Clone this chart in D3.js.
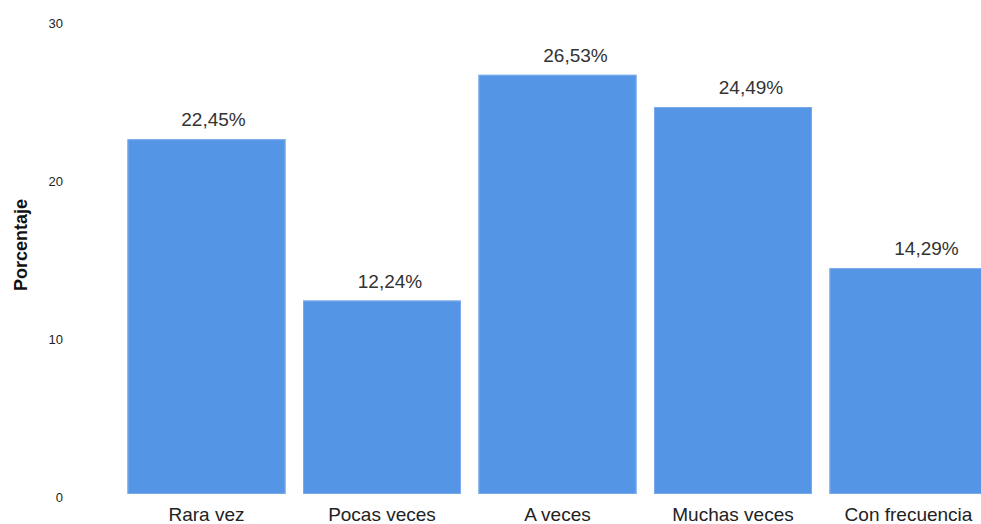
<!DOCTYPE html>
<html>
<head>
<meta charset="utf-8">
<script src="https://cdn.jsdelivr.net/npm/d3@7"></script>
<style>
  body { margin: 0; background: #fff; }
  svg { display: block; font-family: "Liberation Sans", Arial, sans-serif; }
</style>
</head>
<body>
<div id="chart"></div>
<script>
var categories = ["Rara vez", "Pocas veces", "A veces", "Muchas veces", "Con frecuencia"];
var values = [22.45, 12.24, 26.53, 24.49, 14.29];
var labels = ["22,45%", "12,24%", "26,53%", "24,49%", "14,29%"];
var tickValues = [0, 10, 20, 30];

var width = 981,
    height = 524;

var svg = d3.select('#chart')
    .append('svg')
    .attr('width', width)
    .attr('height', height);

var x = d3.scaleBand()
    .domain(categories)
    .range([118.75, 996.25])
    .paddingInner(0.1)
    .paddingOuter(0.05);

var y = d3.scaleLinear()
    .domain([0, 30])
    .range([494, 20]);

// bars
svg.selectAll('rect.bar')
    .data(values)
    .enter().append('rect')
    .attr('class', 'bar')
    .attr('x', function (d, i) { return x(categories[i]); })
    .attr('y', function (d) { return y(d); })
    .attr('width', x.bandwidth())
    .attr('height', function (d) { return y(0) - y(d); })
    .attr('fill', '#5595e5');

// light edge on the bars, like the original export
svg.selectAll('rect.edge')
    .data(values)
    .enter().append('rect')
    .attr('class', 'edge')
    .attr('x', function (d, i) { return x(categories[i]) + 0.5; })
    .attr('y', function (d) { return y(d) + 0.5; })
    .attr('width', x.bandwidth() - 1)
    .attr('height', function (d) { return y(0) - y(d) - 1; })
    .attr('fill', 'none')
    .attr('stroke', '#7aa9ea')
    .attr('stroke-width', 1);

// value labels (the original ones sit a bit right of centre)
var labelShift = [7, 8, 18, 18, 18];
svg.selectAll('text.value')
    .data(values)
    .enter().append('text')
    .attr('class', 'value')
    .attr('x', function (d, i) { return x(categories[i]) + x.bandwidth() / 2 + labelShift[i]; })
    .attr('y', function (d) { return y(d) - 13; })
    .attr('text-anchor', 'middle')
    .style('font-size', '19px')
    .style('fill', '#333')
    .text(function (d, i) { return labels[i]; });

// category labels
svg.selectAll('text.cat')
    .data(categories)
    .enter().append('text')
    .attr('class', 'cat')
    .attr('x', function (d) { return x(d) + x.bandwidth() / 2; })
    .attr('y', y(0) + 27)
    .attr('text-anchor', 'middle')
    .style('font-size', '19px')
    .style('fill', '#222')
    .text(function (d) { return d; });

// y axis, labels only
var yAxis = d3.axisLeft(y)
    .tickValues(tickValues)
    .tickSize(0)
    .tickPadding(0)
    .tickFormat(d3.format('d'));

var gy = svg.append('g')
    .attr('transform', 'translate(63,0)')
    .call(yAxis);
gy.select('.domain').remove();
gy.selectAll('text')
    .attr('dy', '7.5')
    .style('font-family', '"Liberation Sans", Arial, sans-serif')
    .style('font-size', '13px')
    .style('fill', '#222');

svg.append('text')
    .attr('transform', 'translate(27,245) rotate(-90)')
    .attr('text-anchor', 'middle')
    .style('font-size', '18px')
    .style('font-weight', 'bold')
    .style('fill', '#111')
    .text('Porcentaje');
</script>
</body>
</html>
